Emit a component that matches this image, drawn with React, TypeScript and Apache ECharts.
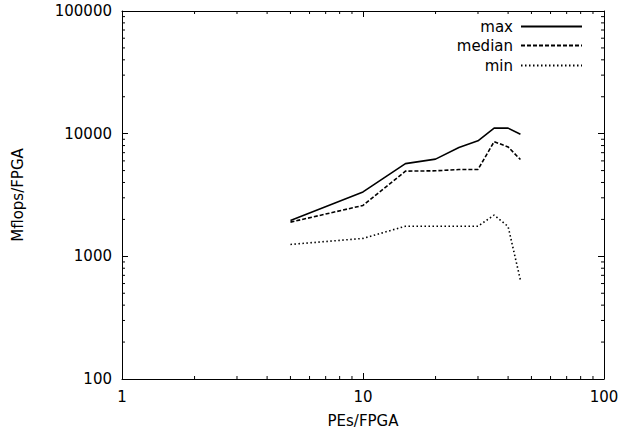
import React, { useEffect, useRef } from "react";
import * as echarts from "echarts";

const pes = [5, 10, 15, 20, 25, 30, 35, 40, 45];
const maxVals = [1960, 3350, 5700, 6200, 7700, 8750, 11100, 11100, 9900];
const medianVals = [1900, 2600, 4950, 4980, 5100, 5100, 8600, 7800, 6150];
const minVals = [1250, 1400, 1760, 1760, 1760, 1760, 2170, 1750, 640];
const xMinorTicks = [2, 3, 4, 5, 6, 7, 8, 9, 20, 30, 40, 50, 60, 70, 80, 90];
const yMinorTicks = [
  200, 300, 400, 500, 600, 700, 800, 900,
  2000, 3000, 4000, 5000, 6000, 7000, 8000, 9000,
  20000, 30000, 40000, 50000, 60000, 70000, 80000, 90000,
];

const FONT = '"DejaVu Sans", "Liberation Sans", Arial, sans-serif';
const FS = 15;
const X_MIN = 1, X_MAX = 100, Y_MIN = 100, Y_MAX = 100000;

export default function App() {
  const ref = useRef<HTMLDivElement>(null);
  useEffect(() => {
    if (!ref.current) return;
    const chart = echarts.init(ref.current, null, { renderer: "svg" });
    const tickStyle = { stroke: "#000", lineWidth: 1 };
    const axisCommon = {
      axisLine: { show: true, lineStyle: { color: "#000", width: 1 } },
      axisTick: { show: true, inside: true, length: 6, lineStyle: { color: "#000" } },
      splitLine: { show: false },
      minorTick: { show: false },
    };
    const mk = (name: string, data: number[], type: any) => ({
      name,
      type: "line",
      data: pes.map((x, i) => [x, data[i]]),
      symbol: "none",
      lineStyle: { color: "#000", width: 1.6, type },
      itemStyle: { color: "#000" },
      xAxisIndex: 0,
      yAxisIndex: 0,
    });
    const legendCommon = (name: string, top: number) => ({
      data: [name],
      right: 39,
      top,
      orient: "vertical",
      align: "right",
      itemWidth: 61,
      itemHeight: 14,
      padding: 0,
      selectedMode: false,
      itemStyle: { opacity: 0 },
      textStyle: { fontSize: FS, color: "#000", fontFamily: FONT, padding: [0, 3, 0, 0] },
    });
    const labelFmt = (v: number) => String(v);
    chart.setOption({
      animation: false,
      backgroundColor: "#fff",
      grid: { left: 122, right: 18, top: 11, bottom: 55, containLabel: false },
      legend: [
        legendCommon("max", 19),
        legendCommon("median", 38),
        legendCommon("min", 58),
      ],
      xAxis: [
        {
          type: "log",
          logBase: 10,
          min: X_MIN,
          max: X_MAX,
          position: "bottom",
          ...axisCommon,
          axisLabel: { fontSize: FS, color: "#000", fontFamily: FONT, margin: 10, formatter: labelFmt },
          name: "PEs/FPGA",
          nameLocation: "middle",
          nameGap: 34,
          nameTextStyle: { fontSize: FS, color: "#000", fontFamily: FONT },
        },
        {
          type: "log",
          logBase: 10,
          min: X_MIN,
          max: X_MAX,
          position: "top",
          ...axisCommon,
          axisLabel: { show: false },
        },
      ],
      yAxis: [
        {
          type: "log",
          logBase: 10,
          min: Y_MIN,
          max: Y_MAX,
          position: "left",
          ...axisCommon,
          axisLabel: { fontSize: FS, color: "#000", fontFamily: FONT, margin: 10, formatter: labelFmt },
          name: "Mflops/FPGA",
          nameLocation: "middle",
          nameGap: 97,
          nameTextStyle: { fontSize: FS, color: "#000", fontFamily: FONT },
        },
        {
          type: "log",
          logBase: 10,
          min: Y_MIN,
          max: Y_MAX,
          position: "right",
          ...axisCommon,
          axisLabel: { show: false },
        },
      ],
      series: [
        mk("max", maxVals, "solid"),
        mk("median", medianVals, [4, 2]),
        mk("min", minVals, [1.5, 2.5]),
        {
          type: "custom",
          name: "xminor",
          xAxisIndex: 0,
          yAxisIndex: 0,
          silent: true,
          data: xMinorTicks.map((v) => [v, Y_MIN]),
          renderItem: (params: any, api: any) => {
            const v = api.value(0);
            const b = api.coord([v, Y_MIN]);
            const t = api.coord([v, Y_MAX]);
            return {
              type: "group",
              children: [
                { type: "line", shape: { x1: b[0], y1: b[1], x2: b[0], y2: b[1] - 3 }, style: tickStyle },
                { type: "line", shape: { x1: t[0], y1: t[1], x2: t[0], y2: t[1] + 3 }, style: tickStyle },
              ],
            };
          },
        },
        {
          type: "custom",
          name: "yminor",
          xAxisIndex: 0,
          yAxisIndex: 0,
          silent: true,
          data: yMinorTicks.map((v) => [X_MIN, v]),
          renderItem: (params: any, api: any) => {
            const v = api.value(1);
            const l = api.coord([X_MIN, v]);
            const r = api.coord([X_MAX, v]);
            return {
              type: "group",
              children: [
                { type: "line", shape: { x1: l[0], y1: l[1], x2: l[0] + 3, y2: l[1] }, style: tickStyle },
                { type: "line", shape: { x1: r[0], y1: r[1], x2: r[0] - 3, y2: r[1] }, style: tickStyle },
              ],
            };
          },
        },
      ],
    });
    return () => chart.dispose();
  }, []);
  return (
    <div
      ref={ref}
      style={{ width: 622, height: 434, position: "fixed", left: 0, top: 0 }}
    />
  );
}
